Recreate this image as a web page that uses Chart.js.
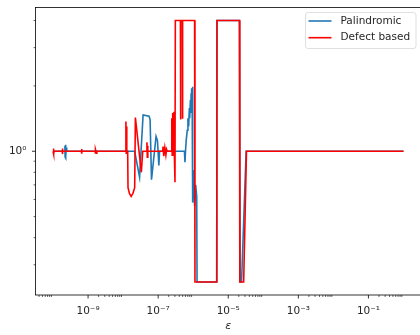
<!DOCTYPE html>
<html>
<head>
<meta charset="utf-8">
<script src="https://cdn.jsdelivr.net/npm/chart.js@4.4.0/dist/chart.umd.min.js"></script>
<style>
html, body { margin: 0; padding: 0; background: #fff; overflow: hidden; }
#wrap { width: 420px; height: 335px; overflow: hidden; }
canvas { display: block; }
</style>
</head>
<body>
<div id="wrap"><canvas id="chart" width="440" height="335"></canvas></div>
<script>
// log10(eps) and ratio values
const palLogEps = [-10.00, -9.67, -9.66, -9.655, -9.65, -9.64, -9.635, -9.63, -9.62, -9.61,
  -7.67, -7.53, -7.43, -7.26, -7.23, -7.19, -7.06, -7.02, -6.98, -6.96,
  -6.25, -6.235, -6.22, -6.20, -6.17, -6.15, -6.13, -6.11, -6.10, -6.08, -6.07, -6.06, -6.05, -6.04, -6.03, -6.02,
  -6.01, -6.00, -5.98, -5.96, -5.93, -5.90, -5.89, -5.335, -5.325, -4.68, -4.66, -4.62, -4.49, 0.00];
const palVals = [1, 1, 1.06, 0.94, 1.07, 0.93, 1.05, 0.95, 1.04, 1,
  1, 0.76, 1.47, 1.45, 1.40, 0.74, 1.17, 1.12, 0.86, 1,
  1, 0.89, 1, 1.12, 1.25, 1.42, 1.3, 1.58, 1.42, 1.72, 1.5, 1.85, 1.62, 1.95, 1.75, 1.98,
  0.58, 0.66, 0.82, 0.56, 0.7, 0.62, 0.25, 0.25, 4, 4, 0.25, 0.25, 1, 1];

const defLogEps = [-10.00, -9.99, -9.985, -9.98, -9.975, -9.97, -9.74, -9.735, -9.73, -9.725, -9.72,
  -9.19, -9.185, -9.18, -9.175, -8.80, -8.795, -8.79, -8.78, -8.76, -8.75,
  -7.93, -7.92, -7.91, -7.90, -7.89, -7.87, -7.86, -7.82, -7.77, -7.72, -7.67, -7.65, -7.48, -7.44,
  -7.33, -7.32, -7.31, -7.30, -7.29, -6.87, -6.86, -6.84, -6.81, -6.78, -6.76, -6.74,
  -6.62, -6.61, -6.60, -6.59, -6.58, -6.56, -6.55, -6.54, -6.52, -6.51,
  -6.365, -6.36, -6.355, -6.31, -6.305, -6.30, -5.96, -5.95, -5.33, -5.32, -4.68, -4.67, -4.56, -4.48, 0.00];
const defVals = [1, 1.03, 0.97, 1.03, 0.97, 1, 1, 1.03, 0.97, 1.03, 1,
  1, 1.025, 0.975, 1, 1, 1.02, 0.975, 1.02, 0.98, 1,
  1, 1.37, 0.98, 1.3, 1, 1, 0.68, 0.64, 0.62, 0.64, 0.68, 1.43, 0.80, 1,
  1, 1.1, 0.94, 1.06, 1, 1, 1.05, 0.95, 1.04, 0.96, 1.02, 1,
  1, 1.42, 0.96, 1.5, 1.0, 1.45, 1.52, 1, 0.72, 4,
  4, 1.4, 4, 4, 1.41, 4, 4, 0.25, 0.25, 4, 4, 0.25, 0.25, 1, 1];

// tick positions
const xMajorExp = [-9, -7, -5, -3, -1];
const xMinorDecades = [-11, -9, -7, -5, -3, -1];
const xMinorSubs = [2, 3, 4, 5, 6, 7, 8, 9];
const yMajor = [1];
const yMinor = [0.3, 0.4, 0.5, 0.6, 0.7, 0.8, 0.9, 2, 3, 4];

const FONT = 'DejaVu Sans';
const TXT = '#262626';
const BLUE = '#1f77b4';
const RED = '#ff0000';

const sup = { '-': '\u207B', '0': '\u2070', '1': '\u00B9', '2': '\u00B2', '3': '\u00B3', '4': '\u2074',
  '5': '\u2075', '6': '\u2076', '7': '\u2077', '8': '\u2078', '9': '\u2079' };
const powLabel = (v) => '10' + String(Math.round(Math.log10(v))).split('').map(c => sup[c]).join('');

const toPts = (le, vs) => le.map((e, i) => ({ x: Math.pow(10, e), y: vs[i] }));

const xMin = Math.pow(10, -10.5), xMax = Math.pow(10, 0.5);
const yMin = Math.pow(10, -0.662), yMax = Math.pow(10, 0.662);

const xTicks = [];
xMajorExp.forEach(e => xTicks.push({ value: Math.pow(10, e), major: true }));
xMinorDecades.forEach(d => xMinorSubs.forEach(s => {
  const v = s * Math.pow(10, d);
  if (v >= xMin && v <= xMax) xTicks.push({ value: v, major: false });
}));
xTicks.sort((a, b) => a.value - b.value);

const yTicks = yMajor.map(v => ({ value: v, major: true }))
  .concat(yMinor.filter(v => v >= yMin && v <= yMax).map(v => ({ value: v, major: false })))
  .sort((a, b) => a.value - b.value);

// tick marks + spines
const axisDecor = {
  id: 'axisDecor',
  afterDraw(chart) {
    const { ctx, chartArea: a, scales: { x, y } } = chart;
    ctx.save();
    ctx.strokeStyle = '#000';
    x.ticks.forEach(t => {
      const px = x.getPixelForValue(t.value);
      ctx.lineWidth = t.major ? 0.8 : 0.6;
      ctx.beginPath();
      ctx.moveTo(px, a.bottom);
      ctx.lineTo(px, a.bottom + (t.major ? 3.5 : 2));
      ctx.stroke();
    });
    y.ticks.forEach(t => {
      const py = y.getPixelForValue(t.value);
      ctx.lineWidth = t.major ? 0.8 : 0.6;
      ctx.beginPath();
      ctx.moveTo(a.left, py);
      ctx.lineTo(a.left - (t.major ? 3.5 : 2), py);
      ctx.stroke();
    });
    ctx.lineWidth = 0.8;
    ctx.strokeRect(a.left, a.top, a.right - a.left, a.bottom - a.top);
    ctx.restore();
  }
};

// legend in the upper right corner of the axes
const cornerLegend = {
  id: 'cornerLegend',
  afterDraw(chart) {
    const ctx = chart.ctx;
    const bx = 305.5, by = 12.5, bw = 110.5, bh = 36;
    ctx.save();
    ctx.beginPath();
    ctx.roundRect(bx, by, bw, bh, 2.5);
    ctx.fillStyle = 'rgba(255,255,255,0.8)';
    ctx.fill();
    ctx.strokeStyle = 'rgba(204,204,204,0.8)';
    ctx.lineWidth = 0.8;
    ctx.stroke();
    ctx.font = '10.5px "' + FONT + '"';
    ctx.textBaseline = 'middle';
    ctx.fillStyle = TXT;
    chart.data.datasets.forEach((ds, i) => {
      const ly = 21 + i * 16.7;
      ctx.strokeStyle = ds.borderColor;
      ctx.lineWidth = 1.6;
      ctx.beginPath();
      ctx.moveTo(308.5, ly);
      ctx.lineTo(331.5, ly);
      ctx.stroke();
      ctx.fillText(ds.label, 340.5, ly);
    });
    ctx.restore();
  }
};

new Chart(document.getElementById('chart'), {
  type: 'line',
  data: {
    datasets: [
      { label: 'Palindromic', data: toPts(palLogEps, palVals), borderColor: BLUE, borderWidth: 1.6, order: 1 },
      { label: 'Defect based', data: toPts(defLogEps, defVals), borderColor: RED, borderWidth: 1.6, order: 0 }
    ]
  },
  options: {
    responsive: false,
    animation: false,
    layout: { padding: { top: 7.5, right: 19, left: 0, bottom: 0 } },
    elements: { point: { radius: 0 }, line: { tension: 0, fill: false } },
    plugins: { legend: { display: false }, tooltip: { enabled: false } },
    scales: {
      x: {
        type: 'logarithmic',
        min: xMin, max: xMax,
        bounds: 'data',
        afterBuildTicks: (s) => { s.ticks = xTicks.map(t => ({ ...t })); },
        afterFit: (s) => { s.height = 40; s.paddingLeft = 0; s.paddingRight = 0; },
        grid: { display: false, drawTicks: false },
        border: { display: false },
        ticks: {
          autoSkip: false, maxRotation: 0, padding: 10,
          color: TXT, font: { family: FONT, size: 10.5 },
          callback: (v, i, ts) => ts[i].major ? powLabel(v) : ''
        },
        title: {
          display: true, text: 'ε', color: TXT,
          font: { family: FONT, size: 11, style: 'italic' },
          padding: { top: 0, bottom: 2 }
        }
      },
      y: {
        type: 'logarithmic',
        min: yMin, max: yMax,
        bounds: 'data',
        afterBuildTicks: (s) => { s.ticks = yTicks.map(t => ({ ...t })); },
        afterFit: (s) => { s.width = 35.5; s.paddingTop = 0; s.paddingBottom = 0; },
        grid: { display: false, drawTicks: false },
        border: { display: false },
        ticks: {
          autoSkip: false, padding: 9,
          color: TXT, font: { family: FONT, size: 10.5 },
          callback: (v, i, ts) => ts[i].major ? powLabel(v) : ''
        }
      }
    }
  },
  plugins: [axisDecor, cornerLegend]
});
</script>
</body>
</html>
